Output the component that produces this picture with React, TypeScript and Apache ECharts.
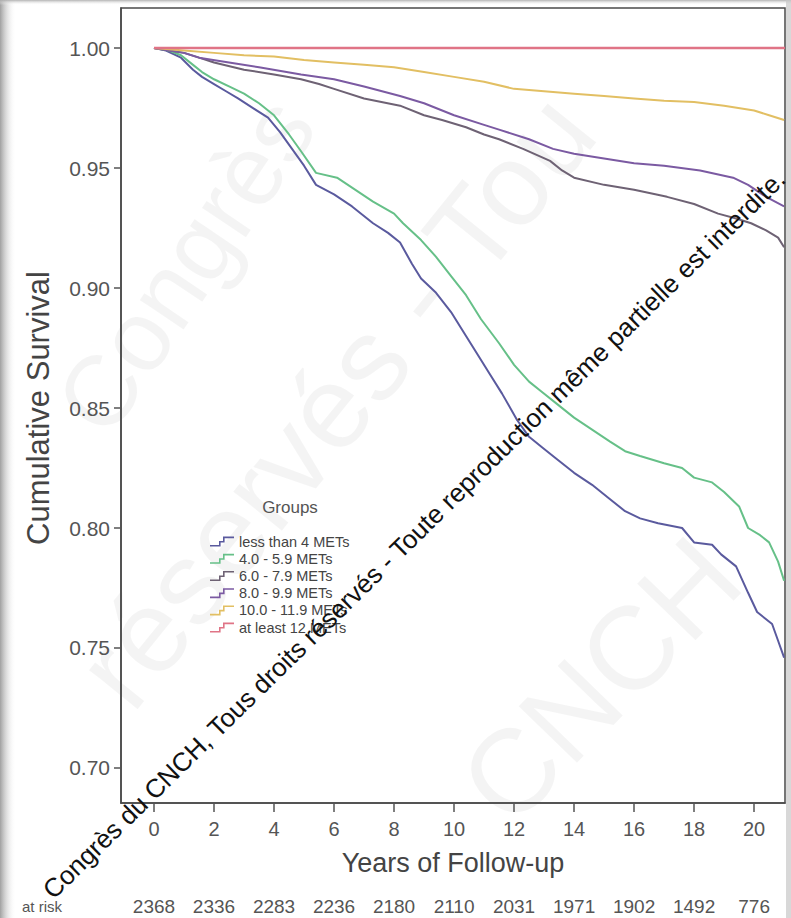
import { useEffect, useRef } from "react";
import * as echarts from "echarts";

const groups = [
  "less than 4 METs",
  "4.0 - 5.9 METs",
  "6.0 - 7.9 METs",
  "8.0 - 9.9 METs",
  "10.0 - 11.9 METs",
  "at least 12 METs",
];
const groupColors = ["#5a5a9e", "#66c088", "#6e6274", "#7b5aa2", "#e2bf63", "#e07486"];

const xTicks = [0, 2, 4, 6, 8, 10, 12, 14, 16, 18, 20];
const yTicks = [0.7, 0.75, 0.8, 0.85, 0.9, 0.95, 1.0];
const atRisk = [2368, 2336, 2283, 2236, 2180, 2110, 2031, 1971, 1902, 1492, 776];

const lessThan4 = [
  [0, 1.0], [0.4, 0.999], [0.9, 0.996], [1.3, 0.991], [1.6, 0.988], [2.0, 0.985], [2.4, 0.982],
  [2.8, 0.979], [3.3, 0.975], [3.8, 0.971], [4.2, 0.965], [4.6, 0.958], [5.0, 0.951], [5.4, 0.943],
  [6.0, 0.939], [6.6, 0.934], [7.3, 0.927], [7.8, 0.923], [8.2, 0.919], [8.6, 0.91], [8.9, 0.904],
  [9.4, 0.898], [9.9, 0.89], [10.3, 0.882], [10.8, 0.872], [11.2, 0.864], [11.6, 0.856], [12.1, 0.845],
  [12.5, 0.838], [12.9, 0.834], [13.4, 0.829], [14.0, 0.823], [14.6, 0.818], [15.2, 0.812],
  [15.7, 0.807], [16.2, 0.804], [16.8, 0.802], [17.6, 0.8], [18.0, 0.794], [18.6, 0.793],
  [18.9, 0.789], [19.4, 0.784], [19.8, 0.773], [20.1, 0.765], [20.6, 0.76], [20.8, 0.753], [21.0, 0.746],
];
const mets4to6 = [
  [0, 1.0], [0.5, 0.999], [0.9, 0.997], [1.3, 0.993], [1.6, 0.99], [2.0, 0.987], [2.5, 0.984],
  [3.0, 0.981], [3.5, 0.977], [4.0, 0.972], [4.5, 0.964], [4.9, 0.957], [5.4, 0.948], [6.1, 0.946],
  [6.7, 0.941], [7.3, 0.936], [8.0, 0.931], [8.3, 0.927], [8.9, 0.92], [9.4, 0.913], [9.9, 0.905],
  [10.4, 0.897], [10.9, 0.887], [11.5, 0.877], [12.0, 0.868], [12.5, 0.861], [12.9, 0.857],
  [13.5, 0.851], [14.0, 0.846], [14.6, 0.841], [15.2, 0.836], [15.7, 0.832], [16.2, 0.83],
  [17.0, 0.827], [17.6, 0.825], [18.0, 0.821], [18.6, 0.819], [19.0, 0.815], [19.5, 0.809],
  [19.8, 0.8], [20.2, 0.797], [20.5, 0.794], [20.8, 0.786], [21.0, 0.778],
];
const mets6to8 = [
  [0, 1.0], [1.0, 0.998], [1.5, 0.996], [2.0, 0.994], [3.0, 0.991], [4.0, 0.989], [4.9, 0.987],
  [5.5, 0.985], [6.0, 0.983], [7.0, 0.979], [8.2, 0.976], [9.0, 0.972], [9.6, 0.97], [10.4, 0.967],
  [11.0, 0.964], [11.5, 0.962], [12.3, 0.958], [13.2, 0.953], [13.6, 0.949], [14.0, 0.946],
  [15.0, 0.943], [16.0, 0.941], [17.1, 0.938], [18.0, 0.935], [18.8, 0.931], [19.4, 0.929],
  [19.9, 0.927], [20.4, 0.924], [20.8, 0.921], [21.0, 0.917],
];
const mets8to10 = [
  [0, 1.0], [1.0, 0.998], [1.5, 0.996], [2.5, 0.994], [3.5, 0.992], [4.9, 0.989], [6.0, 0.987],
  [7.0, 0.984], [8.2, 0.98], [9.0, 0.977], [10.0, 0.972], [11.0, 0.968], [11.5, 0.966], [12.5, 0.962],
  [13.3, 0.958], [14.0, 0.956], [15.0, 0.954], [16.0, 0.952], [17.0, 0.951], [18.2, 0.949],
  [19.3, 0.946], [19.8, 0.943], [20.4, 0.938], [21.0, 0.934],
];
const mets10to12 = [
  [0, 1.0], [1, 0.999], [2, 0.998], [3, 0.997], [4, 0.9965], [5, 0.995], [6, 0.994], [7, 0.993],
  [8, 0.992], [9, 0.99], [10, 0.988], [11, 0.986], [12, 0.983], [13, 0.982], [14, 0.981], [15, 0.98],
  [16, 0.979], [17, 0.978], [18, 0.9775], [19, 0.976], [20, 0.974], [20.5, 0.972], [21, 0.97],
];
const atLeast12 = [[0, 1.0], [21.03, 1.0]];

const seriesData = [lessThan4, mets4to6, mets6to8, mets8to10, mets10to12, atLeast12];

const FONT = "'Liberation Sans', Arial, Helvetica, sans-serif";
const STEP_ICON =
  "path://M0,8.4 L9,8.4 L9,4.4 L13,4.4 L13,0 L24,0 L24,1.6 L14.6,1.6 L14.6,6 L10.6,6 L10.6,10 L0,10 Z";

const faint = (text: string, x: number, y: number, deg: number, size: number) => ({
  type: "text",
  x,
  y,
  rotation: (deg * Math.PI) / 180,
  silent: true,
  z: -10,
  style: {
    text,
    fontSize: size,
    fill: "rgba(0,0,0,0.045)",
    fontFamily: FONT,
    textAlign: "center",
    textVerticalAlign: "middle",
  },
});

export default function App() {
  const ref = useRef<HTMLDivElement>(null);

  useEffect(() => {
    if (!ref.current) return;
    const chart = echarts.init(ref.current, undefined, { renderer: "svg" });
    const xMin = -1.1;
    const xMax = 21.03;
    chart.setOption({
      animation: false,
      backgroundColor: "#ffffff",
      textStyle: { fontFamily: FONT },
      grid: {
        left: 121,
        right: 6,
        top: 8,
        bottom: 115,
        show: true,
        borderColor: "#4a4a4a",
        borderWidth: 1.5,
        backgroundColor: "transparent",
      },
      legend: {
        orient: "vertical",
        left: 205,
        top: 528,
        itemWidth: 24,
        itemHeight: 10,
        itemGap: 0,
        icon: STEP_ICON,
        selectedMode: false,
        data: groups,
        textStyle: { fontSize: 14.5, color: "#444", lineHeight: 17.2, fontFamily: FONT },
      },
      xAxis: [
        {
          type: "value",
          min: xMin,
          max: xMax,
          name: "Years of Follow-up",
          nameLocation: "middle",
          nameGap: 46,
          nameTextStyle: { fontSize: 27, color: "#444", fontFamily: FONT },
          axisLine: { show: true, onZero: false, lineStyle: { color: "#4a4a4a", width: 1.5 } },
          axisTick: { show: true, customValues: xTicks, length: 9, lineStyle: { color: "#555", width: 1.5 } },
          axisLabel: { customValues: xTicks, margin: 16, fontSize: 20, color: "#555", fontFamily: FONT },
          splitLine: { show: false },
        },
        {
          type: "value",
          min: xMin,
          max: xMax,
          position: "bottom",
          offset: 86,
          axisLine: { show: false, onZero: false },
          axisTick: { show: false },
          splitLine: { show: false },
          axisLabel: {
            customValues: xTicks,
            margin: 8,
            fontSize: 19,
            color: "#555",
            fontFamily: FONT,
            formatter: (v: number) => {
              const i = xTicks.indexOf(Math.round(v));
              return i >= 0 ? String(atRisk[i]) : "";
            },
          },
        },
      ],
      yAxis: {
        type: "value",
        min: 0.6854,
        max: 1.0167,
        axisLine: { show: true, onZero: false, lineStyle: { color: "#4a4a4a", width: 1.5 } },
        axisTick: { show: true, customValues: yTicks, length: 7, lineStyle: { color: "#555", width: 1.5 } },
        axisLabel: {
          customValues: yTicks,
          margin: 11,
          fontSize: 21,
          color: "#555",
          fontFamily: FONT,
          formatter: (v: number) => v.toFixed(2),
        },
        splitLine: { show: false },
      },
      series: groups.map((name, i) => ({
        name,
        type: "line",
        xAxisIndex: 0,
        data: seriesData[i],
        showSymbol: false,
        symbol: "none",
        color: groupColors[i],
        itemStyle: { color: groupColors[i] },
        lineStyle: { color: groupColors[i], width: i === 5 ? 2.6 : 2 },
        z: i === 5 ? 3 : 2,
      })),
      graphic: [
        faint("Congrès", 185, 265, 56, 100),
        faint("réservés - Tou", 335, 400, 51, 118),
        faint("CNCH", 600, 680, 46, 118),
        {
          type: "rect",
          left: 0,
          top: 0,
          shape: { width: 16, height: 918 },
          style: {
            fill: new echarts.graphic.LinearGradient(0, 0, 1, 0, [
              { offset: 0, color: "rgba(150,150,150,0.9)" },
              { offset: 1, color: "rgba(255,255,255,0)" },
            ]),
          },
          silent: true,
        },
        {
          type: "rect",
          left: 0,
          top: 0,
          shape: { width: 791, height: 5 },
          style: {
            fill: new echarts.graphic.LinearGradient(0, 0, 0, 1, [
              { offset: 0, color: "rgba(170,170,170,0.9)" },
              { offset: 1, color: "rgba(255,255,255,0)" },
            ]),
          },
          silent: true,
        },
        {
          type: "rect",
          left: 786,
          top: 0,
          shape: { width: 5, height: 918 },
          style: { fill: "rgba(200,200,200,0.7)" },
          silent: true,
        },
        {
          type: "text",
          x: 290,
          y: 507,
          style: {
            text: "Groups",
            fontSize: 17,
            fill: "#555",
            fontFamily: FONT,
            textAlign: "center",
            textVerticalAlign: "middle",
          },
        },
        {
          type: "text",
          x: 38,
          y: 408,
          rotation: Math.PI / 2,
          style: {
            text: "Cumulative Survival",
            fontSize: 31,
            fill: "#444",
            fontFamily: FONT,
            textAlign: "center",
            textVerticalAlign: "middle",
          },
        },
        {
          type: "text",
          x: 22,
          y: 906,
          style: {
            text: "at risk",
            fontSize: 15,
            fill: "#555",
            fontFamily: FONT,
            textAlign: "left",
            textVerticalAlign: "middle",
          },
        },
        {
          type: "text",
          x: 790,
          y: 184,
          rotation: (44.4 * Math.PI) / 180,
          z: 100,
          style: {
            text: "Congrès du CNCH, Tous droits réservés - Toute reproduction même partielle est interdite.",
            fontSize: 26,
            fill: "#111",
            fontFamily: FONT,
            textAlign: "right",
            textVerticalAlign: "bottom",
          },
        },
      ],
    });
    return () => chart.dispose();
  }, []);

  return (
    <div
      ref={ref}
      style={{ position: "absolute", left: 0, top: 0, width: 791, height: 918, background: "#fff" }}
    />
  );
}
